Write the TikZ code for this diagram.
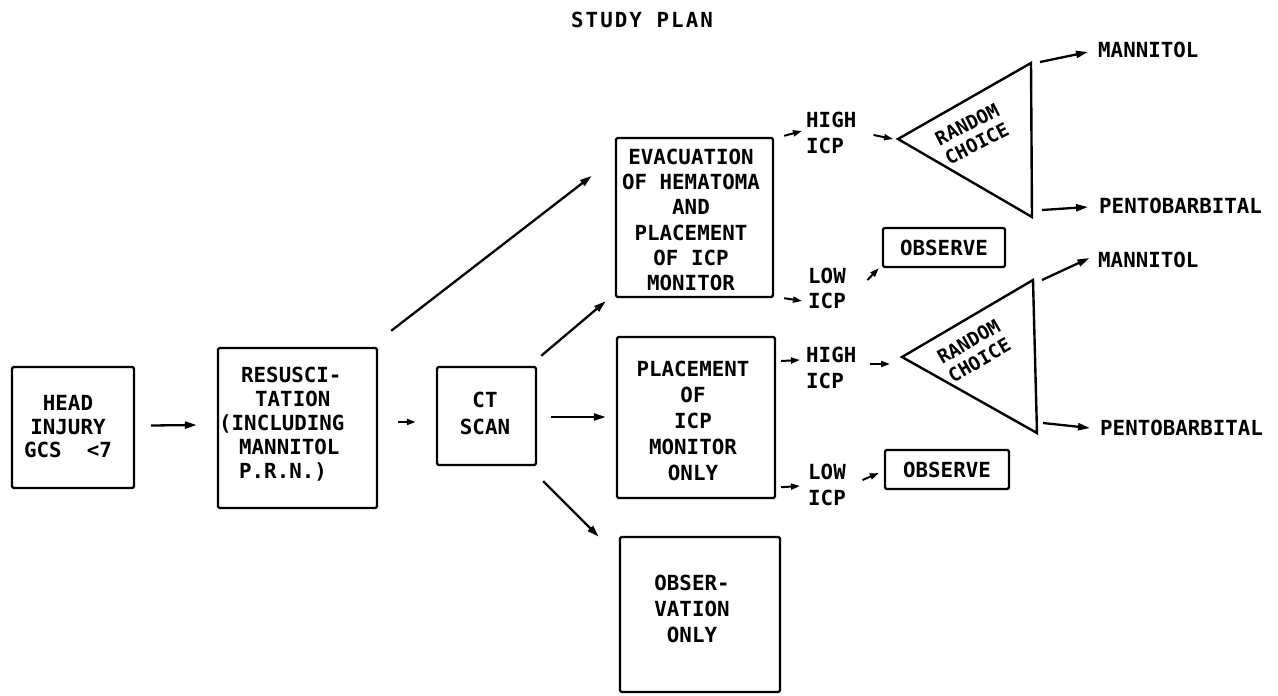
\documentclass[tikz,border=0pt]{standalone}
\usepackage{fontspec}
\setmainfont{DejaVu Sans Mono}
\usetikzlibrary{arrows.meta,calc}
\begin{document}
\begin{tikzpicture}[x=1pt,y=-1pt,
  box/.style={draw,line width=2.4pt,rounded corners=1.5pt,inner sep=0pt},
  txt/.style={font=\bfseries\fontsize{20.8}{25.2}\selectfont,align=center,inner sep=0pt},
  ltxt/.style={txt,align=left,anchor=west},
  rtxt/.style={txt,font=\bfseries\fontsize{19}{21.5}\selectfont},
  arr/.style={line width=2.3pt,-{Triangle[length=12pt,width=7pt]}},
  sarr/.style={line width=2pt,-{Triangle[length=9pt,width=6pt]}},
  tri/.style={draw,line width=2.4pt,line join=miter}
]
\useasboundingbox (0,0) rectangle (1278,696);

% title
\node[txt,font=\bfseries\fontsize{20.8}{25}\selectfont\addfontfeature{LetterSpace=10}] (title) at (642,19.5) {STUDY PLAN};

% boxes
\node[box,minimum width=122pt,minimum height=121pt] (head) at (73,427.5) {};
\node[box,minimum width=159pt,minimum height=160pt] (resus) at (297.5,428) {};
\node[box,minimum width=99pt,minimum height=98pt] (ct) at (486.5,416) {};
\node[box,minimum width=157pt,minimum height=159pt] (evac) at (694.5,217.5) {};
\node[box,minimum width=158pt,minimum height=161pt] (place) at (696,417.5) {};
\node[box,minimum width=160pt,minimum height=155pt] (obsonly) at (700,614.5) {};
\node[box,txt,minimum width=122pt,minimum height=39pt] (obs1) at (944,247.5) {OBSERVE};
\node[box,txt,minimum width=124pt,minimum height=39pt] (obs2) at (947,469.5) {OBSERVE};

% box texts
\node[txt,font=\bfseries\fontsize{20.8}{23.5}\selectfont] (headt) at (68,427) {HEAD\\INJURY\\GCS\ \ <7};
\node[ltxt,font=\bfseries\fontsize{20.8}{24}\selectfont] (resust) at (219,424)
  {\hspace*{22pt}RESUSCI-\\\hspace*{36pt}TATION\\(INCLUDING\\\hspace*{20pt}MANNITOL\\\hspace*{20pt}P.R.N.)};
\node[txt,font=\bfseries\fontsize{20.8}{27}\selectfont] (ctt) at (485,413.5) {CT\\SCAN};
\node[txt] (evact) at (691,220) {EVACUATION\\OF HEMATOMA\\AND\\PLACEMENT\\OF ICP\\MONITOR};
\node[txt,font=\bfseries\fontsize{20.8}{26}\selectfont] (placet) at (693,420.5) {PLACEMENT\\OF\\ICP\\MONITOR\\ONLY};
\node[txt,font=\bfseries\fontsize{20.8}{26}\selectfont] (obsonlyt) at (692,609) {OBSER-\\VATION\\ONLY};

% ICP labels
\node[ltxt,font=\bfseries\fontsize{20.8}{26}\selectfont] (hi1) at (806,133) {HIGH\\ICP};
\node[ltxt,font=\bfseries\fontsize{20.8}{25}\selectfont] (lo1) at (808,288) {LOW\\ICP};
\node[ltxt,font=\bfseries\fontsize{20.8}{26}\selectfont] (hi2) at (806,368) {HIGH\\ICP};
\node[ltxt,font=\bfseries\fontsize{20.8}{26}\selectfont] (lo2) at (808,485) {LOW\\ICP};

% triangles
\coordinate (t1l) at (898,139);
\coordinate (t1t) at (1031,63);
\coordinate (t1b) at (1032,217);
\coordinate (t2l) at (902,357);
\coordinate (t2t) at (1033,280);
\coordinate (t2b) at (1037,433);
\draw[tri] (t1l) -- (t1t) -- (t1b) -- cycle;
\draw[tri] (t2l) -- (t2t) -- (t2b) -- cycle;
\node[rtxt,rotate=27] (rc1) at (972,134) {RANDOM\\CHOICE};
\node[rtxt,rotate=30] (rc2) at (974,351) {RANDOM\\CHOICE};

% outcomes
\node[ltxt] (man1) at (1098,50) {MANNITOL};
\node[ltxt] (pen1) at (1099,206) {PENTOBARBITAL};
\node[ltxt] (man2) at (1098,259.5) {MANNITOL};
\node[ltxt] (pen2) at (1100,427.5) {PENTOBARBITAL};

% connectors
\draw[arr] ($(head.east)+(16,-2)$) -- ($(resus.west)+(-20,-3)$);
\draw[sarr] ($(resus.east)+(20,-6)$) -- ($(ct.west)+(-20,6)$);
\draw[arr] ($(resus.north east)+(13,-16)$) -- ($(evac.north west)+(-23,39)$);
\draw[arr] ($(ct.north east)+(4,-10)$) -- ($(evac.south west)+(-9,3)$);
\draw[arr] ($(ct.east)+(14,1)$) -- ($(place.west)+(-10,-0.5)$);
\draw[arr] ($(ct.south east)+(6,15)$) -- ($(obsonly.north west)+(-20,1)$);

\draw[sarr] ($(evac.north east)+(10,-1)$) -- ($(hi1.west)+(-4,-2)$);
\draw[sarr] ($(hi1.east)+(17,2)$) -- ($(t1l)+(-5,0)$);
\draw[sarr] ($(evac.south east)+(10,0)$) -- ($(lo1.west)+(-6,13)$);
\draw[sarr] ($(lo1.east)+(21.5,-8)$) -- ($(obs1.south west)+(-3,0)$);
\draw[arr] ($(t1t)+(9,-1)$) -- ($(man1.west)+(-10,2)$);
\draw[arr] ($(t1b)+(10,-7)$) -- ($(pen1.west)+(-11,1)$);

\draw[sarr] ($(place.east)+(5,-56.5)$) -- ($(hi2.west)+(-6,-8)$);
\draw[sarr] ($(hi2.east)+(14,-4)$) -- ($(t2l)+(-12,7)$);
\draw[sarr] ($(place.south east)+(5,-12)$) -- ($(lo2.west)+(-8,1)$);
\draw[sarr] ($(lo2.east)+(16.5,-5)$) -- ($(obs2.west)+(-5,3.5)$);
\draw[arr] ($(t2t)+(9,0)$) -- ($(man2.west)+(-8.5,-1.5)$);
\draw[arr] ($(t2b)+(6,-10)$) -- ($(pen2.west)+(-10,0.5)$);
\end{tikzpicture}
\end{document}
